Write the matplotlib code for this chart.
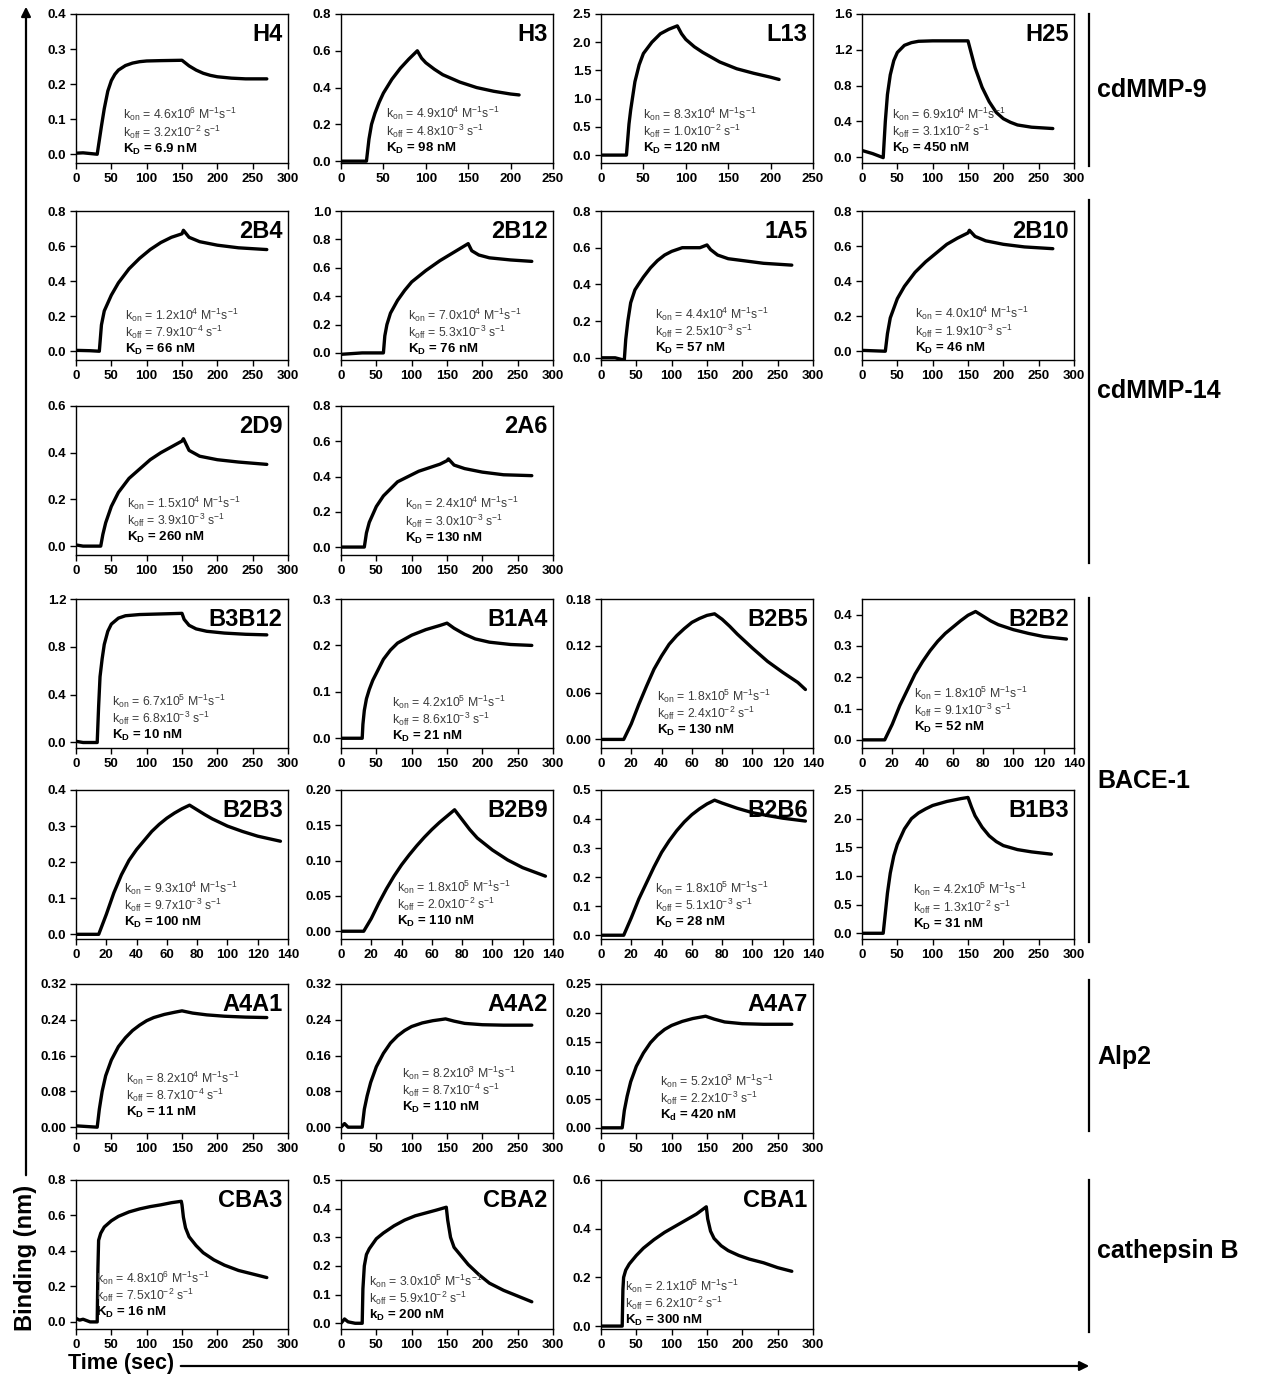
import matplotlib
matplotlib.use('Agg')
import matplotlib.pyplot as plt
from matplotlib.ticker import FixedLocator, FormatStrFormatter

NARROW = ['Liberation Sans Narrow', 'Liberation Sans', 'DejaVu Sans']
WIDE = ['Liberation Sans', 'DejaVu Sans']
plt.rcParams['font.family'] = WIDE
plt.rcParams['mathtext.fontset'] = 'custom'
plt.rcParams['mathtext.rm'] = 'Liberation Sans'
plt.rcParams['mathtext.it'] = 'Liberation Sans:italic'
plt.rcParams['mathtext.bf'] = 'Liberation Sans:bold'

# ---------------- data ----------------
H4_t = [0, 10, 20, 30, 33, 36, 40, 45, 50, 55, 60, 70, 80, 90, 100, 120, 150, 155, 160, 170, 180, 190, 200, 220, 240, 270]
H4_y = [0.003, 0.004, 0.002, 0.0, 0.04, 0.08, 0.13, 0.18, 0.21, 0.228, 0.24, 0.253, 0.26, 0.264, 0.266, 0.267, 0.268, 0.26, 0.252, 0.24, 0.231, 0.225, 0.221, 0.217, 0.215, 0.215]
H3_t = [0, 30, 33, 36, 40, 45, 50, 60, 70, 80, 90, 95, 100, 110, 120, 140, 160, 180, 200, 210]
H3_y = [0.0, 0.0, 0.12, 0.2, 0.26, 0.32, 0.37, 0.445, 0.505, 0.555, 0.6, 0.56, 0.535, 0.5, 0.47, 0.43, 0.4, 0.38, 0.365, 0.36]
L13_t = [0, 30, 33, 35, 40, 45, 50, 60, 70, 80, 90, 95, 100, 110, 120, 140, 160, 180, 200, 210]
L13_y = [0.0, 0.0, 0.55, 0.8, 1.3, 1.6, 1.8, 2.0, 2.15, 2.23, 2.29, 2.15, 2.05, 1.92, 1.82, 1.65, 1.53, 1.45, 1.38, 1.34]
H25_t = [0, 15, 30, 33, 36, 40, 45, 50, 60, 70, 80, 100, 150, 155, 160, 170, 180, 190, 200, 210, 220, 240, 270]
H25_y = [0.075, 0.04, -0.005, 0.4, 0.7, 0.92, 1.08, 1.17, 1.25, 1.28, 1.295, 1.3, 1.3, 1.15, 1.0, 0.78, 0.62, 0.5, 0.43, 0.39, 0.36, 0.335, 0.32]

B2B4_t = [0, 20, 33, 36, 40, 50, 60, 75, 90, 105, 120, 135, 150, 152, 160, 175, 200, 230, 270]
B2B4_y = [0.005, 0.003, 0.0, 0.15, 0.23, 0.32, 0.39, 0.47, 0.53, 0.58, 0.62, 0.65, 0.67, 0.69, 0.65, 0.625, 0.605, 0.59, 0.58]
B2B12_t = [0, 30, 60, 62, 65, 70, 80, 90, 100, 120, 140, 160, 180, 185, 195, 210, 240, 270]
B2B12_y = [-0.01, 0.0, 0.0, 0.12, 0.2, 0.28, 0.37, 0.44, 0.5, 0.58, 0.65, 0.71, 0.77, 0.72, 0.69, 0.67, 0.655, 0.645]
A1A5_t = [0, 20, 30, 33, 35, 38, 42, 48, 53, 60, 70, 80, 90, 100, 115, 130, 140, 150, 155, 165, 180, 200, 230, 270]
A1A5_y = [0.0, 0.0, -0.01, -0.01, 0.1, 0.2, 0.3, 0.37, 0.4, 0.44, 0.49, 0.53, 0.56, 0.58, 0.6, 0.6, 0.6, 0.615, 0.59, 0.56, 0.54, 0.53, 0.515, 0.505]
B2B10_t = [0, 33, 36, 40, 50, 60, 75, 90, 105, 120, 135, 150, 152, 160, 175, 200, 230, 270]
B2B10_y = [0.005, 0.0, 0.1, 0.19, 0.3, 0.37, 0.45, 0.51, 0.56, 0.61, 0.645, 0.675, 0.69, 0.655, 0.63, 0.61, 0.595, 0.585]

D2D9_t = [0, 10, 35, 38, 42, 50, 60, 75, 90, 105, 120, 135, 150, 152, 160, 175, 200, 230, 270]
D2D9_y = [0.005, 0.0, 0.0, 0.05, 0.1, 0.17, 0.23, 0.29, 0.33, 0.37, 0.4, 0.425, 0.45, 0.46, 0.41, 0.385, 0.37, 0.36, 0.35]
A2A6_t = [0, 33, 36, 40, 50, 60, 70, 80, 95, 110, 125, 140, 150, 152, 160, 175, 200, 230, 270]
A2A6_y = [0.0, 0.0, 0.08, 0.14, 0.23, 0.29, 0.33, 0.37, 0.4, 0.43, 0.45, 0.47, 0.49, 0.5, 0.465, 0.445, 0.425, 0.41, 0.405]

B3B12_t = [0, 10, 30, 32, 34, 37, 40, 45, 50, 60, 70, 90, 120, 150, 153, 160, 170, 185, 210, 240, 270]
B3B12_y = [0.01, 0.0, 0.0, 0.3, 0.55, 0.7, 0.82, 0.93, 0.99, 1.04, 1.06, 1.07, 1.075, 1.08, 1.03, 0.98, 0.95, 0.93, 0.915, 0.905, 0.9]
B1A4_t = [0, 30, 31, 33, 36, 40, 45, 50, 60, 70, 80, 100, 120, 140, 150, 160, 175, 190, 210, 240, 270]
B1A4_y = [0.0, 0.0, 0.03, 0.06, 0.085, 0.105, 0.125, 0.14, 0.17, 0.19, 0.205, 0.222, 0.234, 0.243, 0.248, 0.237, 0.224, 0.214, 0.207, 0.202, 0.2]
B2B5_t = [0, 15, 20, 25, 30, 35, 40, 45, 50, 55, 60, 65, 70, 75, 80, 85, 90, 100, 110, 120, 130, 135]
B2B5_y = [0.0, 0.0, 0.02, 0.045, 0.068, 0.09, 0.107, 0.122, 0.133, 0.142, 0.15, 0.155, 0.159, 0.161, 0.154, 0.145, 0.135, 0.117, 0.1, 0.086, 0.073, 0.064]
B2B2_t = [0, 15, 20, 25, 30, 35, 40, 45, 50, 55, 60, 65, 70, 75, 80, 85, 90, 100, 110, 120, 135]
B2B2_y = [0.0, 0.0, 0.05, 0.11, 0.16, 0.21, 0.25, 0.285, 0.315, 0.34, 0.36, 0.38, 0.398, 0.41, 0.395, 0.38, 0.368, 0.352, 0.34, 0.33, 0.322]

B2B3_t = [0, 15, 20, 25, 30, 35, 40, 45, 50, 55, 60, 65, 70, 75, 80, 85, 90, 100, 110, 120, 135]
B2B3_y = [0.0, 0.0, 0.055, 0.115, 0.165, 0.205, 0.235, 0.26, 0.285, 0.305, 0.322, 0.336, 0.348, 0.358, 0.345, 0.332, 0.32, 0.3, 0.285, 0.272, 0.258]
B2B9_t = [0, 15, 20, 25, 30, 35, 40, 45, 50, 55, 60, 65, 70, 75, 80, 85, 90, 100, 110, 120, 135]
B2B9_y = [0.0, 0.0, 0.018, 0.04, 0.06, 0.078, 0.094, 0.108, 0.121, 0.133, 0.144, 0.154, 0.163, 0.172, 0.158, 0.144, 0.132, 0.115, 0.101, 0.09, 0.078]
B2B6_t = [0, 15, 20, 25, 30, 35, 40, 45, 50, 55, 60, 65, 70, 75, 80, 90, 100, 110, 120, 135]
B2B6_y = [0.0, 0.0, 0.06, 0.125, 0.18, 0.235, 0.285, 0.325, 0.36, 0.39, 0.415, 0.435, 0.452, 0.465, 0.455, 0.437, 0.422, 0.412, 0.403, 0.393]
B1B3_t = [0, 30, 33, 36, 40, 45, 50, 60, 70, 80, 90, 100, 120, 140, 150, 155, 160, 170, 180, 190, 200, 220, 240, 268]
B1B3_y = [0.0, 0.0, 0.35, 0.7, 1.05, 1.35, 1.55, 1.82, 2.0, 2.1, 2.17, 2.23, 2.3, 2.35, 2.37, 2.2, 2.05, 1.85, 1.7, 1.6, 1.53, 1.46, 1.42, 1.38]

A4A1_t = [0, 30, 33, 37, 42, 50, 60, 70, 80, 90, 100, 110, 125, 140, 150, 165, 185, 210, 240, 270]
A4A1_y = [0.003, 0.0, 0.04, 0.08, 0.115, 0.15, 0.18, 0.2, 0.216, 0.228, 0.238, 0.245, 0.252, 0.257, 0.26, 0.255, 0.251, 0.248, 0.246, 0.245]
A4A2_t = [0, 5, 10, 30, 33, 37, 42, 50, 60, 70, 80, 90, 100, 115, 130, 148, 160, 175, 200, 230, 270]
A4A2_y = [0.0, 0.008, 0.0, 0.0, 0.04, 0.07, 0.1, 0.135, 0.165, 0.188, 0.204, 0.216, 0.225, 0.233, 0.238, 0.242, 0.237, 0.232, 0.229, 0.228, 0.228]
A4A7_t = [0, 30, 33, 37, 42, 50, 60, 70, 80, 90, 100, 115, 130, 148, 160, 175, 200, 230, 270]
A4A7_y = [0.0, 0.0, 0.03, 0.055, 0.08, 0.107, 0.13, 0.148, 0.161, 0.171, 0.178, 0.185, 0.19, 0.194, 0.189, 0.184, 0.181, 0.18, 0.18]

CBA3_t = [0, 5, 10, 20, 30, 31, 32, 35, 40, 50, 60, 75, 90, 105, 120, 135, 149, 150, 152, 155, 160, 170, 180, 195, 210, 230, 250, 270]
CBA3_y = [0.02, 0.01, 0.015, 0.0, 0.0, 0.3, 0.46, 0.5, 0.535, 0.57, 0.595, 0.62, 0.637, 0.65, 0.66, 0.672, 0.68, 0.66, 0.59, 0.53, 0.48, 0.43, 0.39, 0.35, 0.32, 0.29, 0.27, 0.25]
CBA2_t = [0, 5, 10, 20, 30, 31, 33, 36, 40, 50, 60, 75, 90, 105, 120, 135, 149, 151, 155, 160, 170, 180, 195, 210, 230, 250, 270]
CBA2_y = [0.0, 0.015, 0.005, 0.0, 0.0, 0.12, 0.2, 0.24, 0.26, 0.295, 0.315, 0.34, 0.36, 0.375, 0.385, 0.395, 0.405, 0.36, 0.3, 0.265, 0.235, 0.205, 0.17, 0.14, 0.115, 0.095, 0.075]
CBA1_t = [0, 30, 31, 32, 35, 40, 50, 60, 75, 90, 105, 120, 135, 149, 151, 155, 160, 170, 180, 195, 210, 230, 250, 270]
CBA1_y = [0.0, 0.0, 0.15, 0.2, 0.23, 0.255, 0.29, 0.32, 0.355, 0.385, 0.41, 0.435, 0.46, 0.49, 0.44, 0.39, 0.36, 0.33, 0.31, 0.29, 0.275, 0.26, 0.24, 0.225]

names = ['H4', 'H3', 'L13', 'H25', '2B4', '2B12', '1A5', '2B10', '2D9', '2A6',
         'B3B12', 'B1A4', 'B2B5', 'B2B2', 'B2B3', 'B2B9', 'B2B6', 'B1B3',
         'A4A1', 'A4A2', 'A4A7', 'CBA3', 'CBA2', 'CBA1']
times = [H4_t, H3_t, L13_t, H25_t, B2B4_t, B2B12_t, A1A5_t, B2B10_t, D2D9_t, A2A6_t,
         B3B12_t, B1A4_t, B2B5_t, B2B2_t, B2B3_t, B2B9_t, B2B6_t, B1B3_t,
         A4A1_t, A4A2_t, A4A7_t, CBA3_t, CBA2_t, CBA1_t]
signals = [H4_y, H3_y, L13_y, H25_y, B2B4_y, B2B12_y, A1A5_y, B2B10_y, D2D9_y, A2A6_y,
           B3B12_y, B1A4_y, B2B5_y, B2B2_y, B2B3_y, B2B9_y, B2B6_y, B1B3_y,
           A4A1_y, A4A2_y, A4A7_y, CBA3_y, CBA2_y, CBA1_y]
kon_m = ['4.6', '4.9', '8.3', '6.9', '1.2', '7.0', '4.4', '4.0', '1.5', '2.4',
         '6.7', '4.2', '1.8', '1.8', '9.3', '1.8', '1.8', '4.2',
         '8.2', '8.2', '5.2', '4.8', '3.0', '2.1']
kon_e = ['6', '4', '4', '4', '4', '4', '4', '4', '4', '4',
         '5', '5', '5', '5', '4', '5', '5', '5',
         '4', '3', '3', '6', '5', '5']
koff_m = ['3.2', '4.8', '1.0', '3.1', '7.9', '5.3', '2.5', '1.9', '3.9', '3.0',
          '6.8', '8.6', '2.4', '9.1', '9.7', '2.0', '5.1', '1.3',
          '8.7', '8.7', '2.2', '7.5', '5.9', '6.2']
koff_e = ['-2', '-3', '-2', '-2', '-4', '-3', '-3', '-3', '-3', '-3',
          '-3', '-3', '-2', '-3', '-3', '-2', '-3', '-2',
          '-4', '-4', '-3', '-2', '-2', '-2']
kd_val = ['6.9', '98', '120', '450', '66', '76', '57', '46', '260', '130',
          '10', '21', '130', '52', '100', '110', '28', '31',
          '11', '110', '420', '16', '200', '300']
kd_sym = ['K', 'K', 'K', 'K', 'K', 'K', 'K', 'K', 'K', 'K',
          'K', 'K', 'K', 'K', 'K', 'K', 'K', 'K',
          'K', 'K', 'K', 'K', 'k', 'K']
kd_sub = ['D'] * 20 + ['d', 'D', 'D', 'D']
x_max = [300, 250, 250, 300, 300, 300, 300, 300, 300, 300,
         300, 300, 140, 140, 140, 140, 140, 300,
         300, 300, 300, 300, 300, 300]
x_step = [50, 50, 50, 50, 50, 50, 50, 50, 50, 50,
          50, 50, 20, 20, 20, 20, 20, 50,
          50, 50, 50, 50, 50, 50]
y_max = [0.4, 0.8, 2.5, 1.6, 0.8, 1.0, 0.8, 0.8, 0.6, 0.8,
         1.2, 0.3, 0.18, 0.4, 0.4, 0.20, 0.5, 2.5,
         0.32, 0.32, 0.25, 0.8, 0.5, 0.6]
y_step = [0.1, 0.2, 0.5, 0.4, 0.2, 0.2, 0.2, 0.2, 0.2, 0.2,
          0.4, 0.1, 0.06, 0.1, 0.1, 0.05, 0.1, 0.5,
          0.08, 0.08, 0.05, 0.2, 0.1, 0.2]
y_fmt = ['%.1f'] * 12 + ['%.2f', '%.1f', '%.1f', '%.2f', '%.1f', '%.1f',
                         '%.2f', '%.2f', '%.2f', '%.1f', '%.1f', '%.1f']

# ---------------- layout (pixel geometry of the reference) ----------------
W, H = 1267, 1379
slots = [(0, 0), (0, 1), (0, 2), (0, 3), (1, 0), (1, 1), (1, 2), (1, 3), (2, 0), (2, 1),
         (3, 0), (3, 1), (3, 2), (3, 3), (4, 0), (4, 1), (4, 2), (4, 3),
         (5, 0), (5, 1), (5, 2), (6, 0), (6, 1), (6, 2)]
col_left = [76, 341, 601, 862]
row_top = [14, 211, 406, 599, 790, 984, 1180]
box_w, box_h = 212, 149
y_top = [0.4, 0.8, 2.5, 1.6, 0.8, 1.0, 0.8, 0.8, 0.6, 0.8,
         1.2, 0.3, 0.18, 0.45, 0.4, 0.20, 0.5, 2.5,
         0.32, 0.32, 0.25, 0.8, 0.5, 0.6]
y_bot = [-0.025, -0.01, -0.14, -0.065, -0.05, -0.05, -0.012, -0.05, -0.038, -0.045,
         -0.046, -0.021, -0.011, -0.026, -0.013, -0.011, -0.013, -0.1,
         -0.013, -0.013, -0.009, -0.04, -0.02, -0.012]
txt_x = [0.22, 0.21, 0.2, 0.14, 0.233, 0.315, 0.255, 0.25, 0.24, 0.3,
         0.17, 0.24, 0.265, 0.245, 0.227, 0.262, 0.255, 0.242,
         0.235, 0.29, 0.28, 0.095, 0.13, 0.115]
txt_y = [0.094, 0.10, 0.096, 0.096, 0.07, 0.07, 0.075, 0.08, 0.12, 0.114,
         0.084, 0.075, 0.116, 0.14, 0.11, 0.12, 0.11, 0.10,
         0.14, 0.17, 0.12, 0.11, 0.09, 0.055]

fig = plt.figure(figsize=(W / 100, H / 100), dpi=100)

for i, name in enumerate(names):
    r, c = slots[i]
    left = col_left[c]
    top = row_top[r]
    ax = fig.add_axes([left / W, 1 - (top + box_h) / H, box_w / W, box_h / H])
    ax.plot(times[i], signals[i], color='black', lw=2.4, solid_joinstyle='round',
            solid_capstyle='round')
    ax.set_xlim(0, x_max[i])
    ax.set_ylim(y_bot[i], y_top[i])
    nx = int(round(x_max[i] / x_step[i]))
    ax.xaxis.set_major_locator(FixedLocator([k * x_step[i] for k in range(nx + 1)]))
    ny = int(round(y_max[i] / y_step[i]))
    ax.yaxis.set_major_locator(FixedLocator([round(k * y_step[i], 4) for k in range(ny + 1)]))
    ax.yaxis.set_major_formatter(FormatStrFormatter(y_fmt[i]))
    ax.xaxis.set_major_formatter(FormatStrFormatter('%d'))
    ax.tick_params(direction='out', length=4, width=1.0, labelsize=9.5, pad=3,
                   top=False, right=False)
    for lab in ax.get_xticklabels() + ax.get_yticklabels():
        lab.set_fontweight('bold')
    for sp in ax.spines.values():
        sp.set_linewidth(1.0)
    ax.text(0.975, 0.94, name, transform=ax.transAxes, ha='right', va='top',
            fontsize=17, fontweight='bold')
    dy = 0.115
    ax.text(txt_x[i], txt_y[i] + 2 * dy,
            'k$_{\\rm on}$ = %sx10$^{%s}$ M$^{-1}$s$^{-1}$' % (kon_m[i], kon_e[i]),
            transform=ax.transAxes, ha='left', va='center', fontsize=8.8, color='#3a3a3a')
    ax.text(txt_x[i], txt_y[i] + dy,
            'k$_{\\rm off}$ = %sx10$^{%s}$ s$^{-1}$' % (koff_m[i], koff_e[i]),
            transform=ax.transAxes, ha='left', va='center', fontsize=8.8, color='#3a3a3a')
    ax.text(txt_x[i], txt_y[i],
            '%s$_{\\bf %s}$ = %s nM' % (kd_sym[i], kd_sub[i], kd_val[i]),
            transform=ax.transAxes, ha='left', va='center', fontsize=9.5, fontweight='bold',
            color='black')

# ---------------- overlay: global axes arrows, brackets and group labels ----------------
ov = fig.add_axes([0, 0, 1, 1], facecolor='none')
ov.set_xlim(0, W)
ov.set_ylim(H, 0)
ov.axis('off')
ov.annotate('', xy=(26, 4), xytext=(26, 1178),
            arrowprops=dict(arrowstyle='-|>', lw=1.6, color='black', mutation_scale=14))
ov.annotate('', xy=(1092, 1366), xytext=(178, 1366),
            arrowprops=dict(arrowstyle='-|>', lw=1.6, color='black', mutation_scale=14))
ov.text(26, 1258, 'Binding (nm)', rotation=90, ha='center', va='center',
        fontsize=17, fontweight='bold')
ov.text(68, 1364, 'Time (sec)', ha='left', va='center', fontsize=15.5, fontweight='bold')

groups = ['cdMMP-9', 'cdMMP-14', 'BACE-1', 'Alp2', 'cathepsin B']
group_span = [(14, 166), (200, 563), (598, 942), (980, 1131), (1180, 1332)]
group_label_y = [90, 391, 781, 1057, 1251]
for g, (a, b), ly in zip(groups, group_span, group_label_y):
    ov.plot([1089, 1089], [a, b], color='black', lw=1.6)
    ov.text(1097, ly, g, ha='left', va='center', fontsize=18, fontweight='bold')

fig.savefig('out.png', dpi=100)
